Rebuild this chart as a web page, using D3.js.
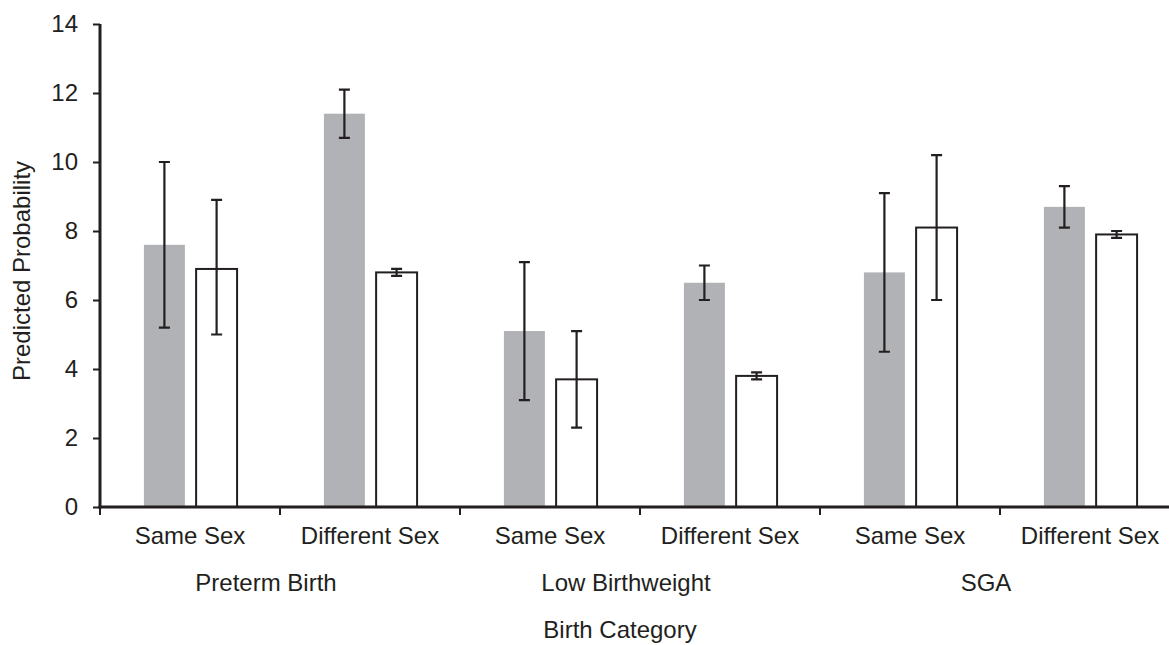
<!DOCTYPE html>
<html><head><meta charset="utf-8">
<script src="https://cdn.jsdelivr.net/npm/d3@7"></script>
<style>body{margin:0;background:#fff}svg{display:block}text{font-family:"Liberation Sans",Arial,sans-serif;fill:#231f20}</style>
</head><body><svg id="c" width="1169" height="645"></svg>
<script>
const groups = ["Preterm Birth","Low Birthweight","SGA"];
const subcats = ["Same Sex","Different Sex"];
const series = ["gray","white"];
const grayVals  = [7.6, 11.4, 5.1, 6.5, 6.8, 8.7];
const grayLow   = [5.2, 10.7, 3.1, 6.0, 4.5, 8.1];
const grayHigh  = [10.0, 12.1, 7.1, 7.0, 9.1, 9.3];
const whiteVals = [6.9, 6.8, 3.7, 3.8, 8.1, 7.9];
const whiteLow  = [5.0, 6.7, 2.3, 3.7, 6.0, 7.8];
const whiteHigh = [8.9, 6.9, 5.1, 3.9, 10.2, 8.0];
const yTicks = [0,2,4,6,8,10,12,14];

(function(){
const ink = "#231f20", grayFill = "#b1b2b5", fs = 24;
const svg = d3.select("#c");
const mLeft = 100, mRight = 1180, mTop = 24, mBottom = 507;
const cats = [];
groups.forEach((g,gi)=>subcats.forEach((s,si)=>cats.push({g,s,i:gi*2+si})));

const x0 = d3.scaleBand().domain(cats.map(d=>d.i)).range([mLeft,mRight]).padding(0);
const bw = x0.bandwidth();
const x1 = d3.scaleBand().domain(series).range([bw*0.244, bw*0.756]).paddingInner(0.2);
const y = d3.scaleLinear().domain([0,14]).range([mBottom, mTop]);

const data = [];
cats.forEach(c=>{
  data.push({i:c.i, s:"gray", v:grayVals[c.i], lo:grayLow[c.i], hi:grayHigh[c.i]});
  data.push({i:c.i, s:"white", v:whiteVals[c.i], lo:whiteLow[c.i], hi:whiteHigh[c.i]});
});

svg.append("g").selectAll("rect").data(data).join("rect")
  .attr("x", d=>x0(d.i)+x1(d.s) + (d.s==="white"?1:0))
  .attr("width", x1.bandwidth())
  .attr("y", d=>y(d.v))
  .attr("height", d=>y(0)-y(d.v))
  .attr("fill", d=>d.s==="gray"?grayFill:"#fff")
  .attr("stroke", d=>d.s==="gray"?"none":ink)
  .attr("stroke-width", 2);

const eb = svg.append("g").attr("stroke", ink).attr("stroke-width", 2.2).attr("fill","none");
data.forEach(d=>{
  const cx = x0(d.i)+x1(d.s)+x1.bandwidth()/2 + (d.s==="white"?1:0);
  const p = d3.path();
  p.moveTo(cx, y(d.lo)); p.lineTo(cx, y(d.hi));
  p.moveTo(cx-5.5, y(d.lo)); p.lineTo(cx+5.5, y(d.lo));
  p.moveTo(cx-5.5, y(d.hi)); p.lineTo(cx+5.5, y(d.hi));
  eb.append("path").attr("d", p.toString());
});

const ya = svg.append("g").attr("transform",`translate(${mLeft},0)`)
  .call(d3.axisLeft(y).tickValues(yTicks).tickSize(7).tickPadding(15).tickFormat(d3.format("d")));
ya.select(".domain").attr("stroke", ink).attr("stroke-width",3).attr("d",`M0,${mTop}V${mBottom+1.5}`);
ya.selectAll(".tick line").attr("stroke", ink).attr("stroke-width",2);
ya.selectAll(".tick text").attr("font-size",fs).attr("fill",ink).attr("font-family","Liberation Sans, Arial, sans-serif");

const xa = svg.append("g").attr("transform",`translate(0,${mBottom})`)
  .call(d3.axisBottom(x0).tickValues([]).tickSize(0));
xa.select(".domain").attr("stroke", ink).attr("stroke-width",3).attr("d",`M${mLeft-1.5},0H${mRight}`);
const boundaries = d3.range(cats.length+1).map(k=> mLeft + k*bw);
svg.append("g").selectAll("line").data(boundaries).join("line")
  .attr("x1",d=>d).attr("x2",d=>d).attr("y1",mBottom).attr("y2",mBottom+8)
  .attr("stroke",ink).attr("stroke-width",2);

svg.append("g").selectAll("text").data(cats).join("text")
  .attr("x", d=>x0(d.i)+bw/2).attr("y", 544)
  .attr("text-anchor","middle").attr("font-size",fs).text(d=>d.s);

svg.append("g").selectAll("text").data(groups).join("text")
  .attr("x", (d,gi)=>x0(gi*2)+bw - 14).attr("y", 591)
  .attr("text-anchor","middle").attr("font-size",fs).text(d=>d);

svg.append("text").attr("x",620).attr("y",638).attr("text-anchor","middle").attr("font-size",fs).text("Birth Category");
svg.append("text").attr("transform","translate(30,271) rotate(-90)").attr("text-anchor","middle").attr("font-size",fs).text("Predicted Probability");
})();
</script></body></html>
